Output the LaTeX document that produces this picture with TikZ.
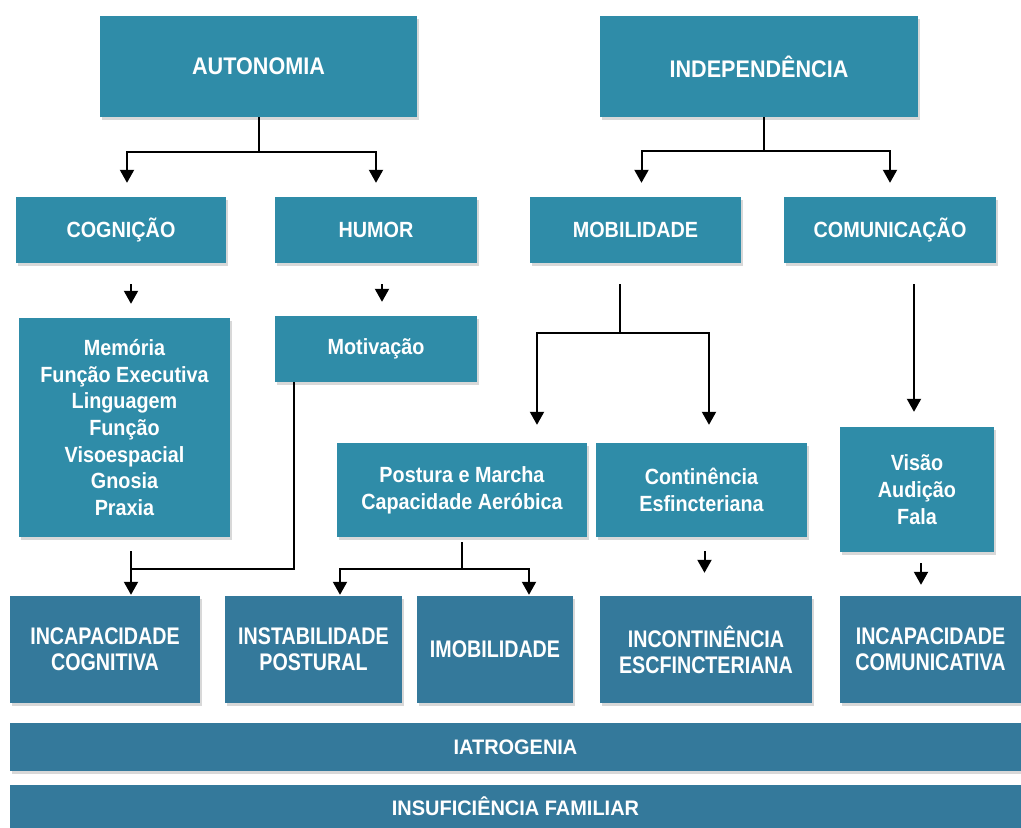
\documentclass[tikz,border=0pt]{standalone}
\usepackage{fontspec}
\setmainfont{Liberation Sans}
\newfontfamily\boxfont{Liberation Sans}[FakeStretch=0.9]
\newfontfamily\narrowfont{Liberation Sans}[FakeStretch=0.82]
\newfontfamily\bandfont{Liberation Sans}[FakeStretch=0.95]
\usetikzlibrary{arrows.meta,shadows}
\definecolor{tealbox}{RGB}{47,140,168}
\definecolor{darkbox}{RGB}{52,121,155}
\begin{document}
\begin{tikzpicture}[
    x=1pt, y=-1pt,
    box/.style={rectangle, fill=tealbox, text=white, inner sep=0pt, align=center,
        drop shadow={shadow xshift=2pt, shadow yshift=-3pt, opacity=0.3}},
    topbox/.style={box, font=\boxfont\bfseries\fontsize{24}{28}\selectfont},
    areabox/.style={box, font=\boxfont\bfseries\fontsize{22}{26.7}\selectfont},
    outcome/.style={box, fill=darkbox, font=\narrowfont\bfseries\fontsize{24}{26}\selectfont},
    band/.style={box, fill=darkbox, font=\bandfont\bfseries\fontsize{21}{25}\selectfont},
    link/.style={draw=black, line width=2pt},
    arrow/.style={link, -{Triangle[width=14pt,length=13pt]}, shorten >=14pt}
]
\useasboundingbox[fill=white] (0,0) rectangle (1021,828);

% Domains
\node[topbox, minimum width=317pt, minimum height=101pt] (autonomia) at (258.5,66.5) {AUTONOMIA};
\node[topbox, minimum width=318pt, minimum height=101pt] (independencia) at (759,66.5) {INDEPEND\^ENCIA};

% Areas
\node[areabox, minimum width=210pt, minimum height=66pt] (cognicao) at (121,230) {COGNI\c{C}\~AO};
\node[areabox, minimum width=202pt, minimum height=66pt] (humor) at (376,230) {HUMOR};
\node[areabox, minimum width=211pt, minimum height=66pt] (mobilidade) at (635.5,230) {MOBILIDADE};
\node[areabox, minimum width=212pt, minimum height=66pt] (comunicacao) at (890,230) {COMUNICA\c{C}\~AO};

% Functions
\node[areabox, minimum width=211pt, minimum height=219pt] (memoria) at (124.5,427.5)
    {Mem\'oria\\Fun\c{c}\~ao Executiva\\Linguagem\\Fun\c{c}\~ao\\Visoespacial\\Gnosia\\Praxia};
\node[areabox, minimum width=202pt, minimum height=66pt] (motivacao) at (376,349) {Motiva\c{c}\~ao};
\node[areabox, minimum width=250pt, minimum height=94pt] (postura) at (462,490) {Postura e Marcha\\Capacidade Aer\'obica};
\node[areabox, minimum width=211pt, minimum height=94pt] (continencia) at (701.5,490) {Contin\^encia\\Esfincteriana};
\node[areabox, minimum width=154pt, minimum height=125pt] (visao) at (917,489.5) {Vis\~ao\\Audi\c{c}\~ao\\Fala};

% Outcomes
\node[outcome, minimum width=190pt, minimum height=107pt] (inccog) at (105,649.5) {INCAPACIDADE\\COGNITIVA};
\node[outcome, minimum width=177pt, minimum height=107pt] (instab) at (313.5,649.5) {INSTABILIDADE\\POSTURAL};
\node[outcome, minimum width=156pt, minimum height=107pt] (imob) at (495,649.5) {IMOBILIDADE};
\node[outcome, minimum width=212pt, minimum height=107pt] (incont) at (706,649.5) {INCONTIN\^ENCIA\\ESCFINCTERIANA};
\node[outcome, minimum width=181pt, minimum height=107pt] (inccom) at (930.5,649.5) {INCAPACIDADE\\COMUNICATIVA};

\node[band, minimum width=1011pt, minimum height=48pt] (iatrogenia) at (515.5,747) {IATROGENIA};
\node[band, minimum width=1011pt, minimum height=43pt] (insuf) at (515.5,806.5) {INSUFICI\^ENCIA FAMILIAR};

% Junctions
\coordinate (cogx) at (131,569);
\coordinate (mobj) at (620,333);
\coordinate (mobl) at (537,333);
\coordinate (mobr) at (709,333);
\coordinate (posl) at (340,569);
\coordinate (posr) at (529,569);

% Domain to areas
\draw[arrow] (autonomia.south) -- ++(0,35) -| ([xshift=6pt]cognicao.north);
\draw[arrow] (autonomia.south) -- ++(0,35) -| (humor.north);
\draw[arrow] ([xshift=5pt]independencia.south) -- ++(0,34) -| ([xshift=6pt]mobilidade.north);
\draw[arrow] ([xshift=5pt]independencia.south) -- ++(0,34) -| (comunicacao.north);

% Areas to functions
\draw[arrow, shorten <=21pt] (cognicao.south -| cogx) -- (memoria.north -| cogx);
\draw[arrow, shorten <=21pt] ([xshift=6pt]humor.south) -- ([xshift=6pt]motivacao.north);
\draw[link, shorten <=21pt] (mobilidade.south -| mobj) -- (mobj);
\draw[arrow, shorten >=18pt] (mobj) -| (postura.north -| mobl);
\draw[arrow, shorten >=18pt] (mobj) -| (continencia.north -| mobr);
\draw[arrow, shorten <=21pt, shorten >=15pt] ([xshift=-3pt]comunicacao.south -| visao) -- ([xshift=-3pt]visao.north);

% Functions to outcomes
\draw[link, shorten <=14pt] (memoria.south -| cogx) -- (cogx);
\draw[link] ([xshift=19pt]motivacao.south west) |- (cogx);
\draw[arrow, shorten >=1pt] (cogx) -- (inccog.north -| cogx);
\draw[arrow, shorten <=5pt, shorten >=1pt] (postura.south) |- (posl) -- (instab.north -| posl);
\draw[arrow, shorten >=1pt] (postura.south |- posr) -| (imob.north -| posr);
\draw[arrow, shorten <=14pt, shorten >=23pt] ([xshift=3pt]continencia.south) -- ([xshift=3pt]continencia.south |- incont.north);
\draw[arrow, shorten <=11pt, shorten >=11pt] ([xshift=4pt]visao.south) -- ([xshift=4pt]visao.south |- inccom.north);

\end{tikzpicture}
\end{document}
